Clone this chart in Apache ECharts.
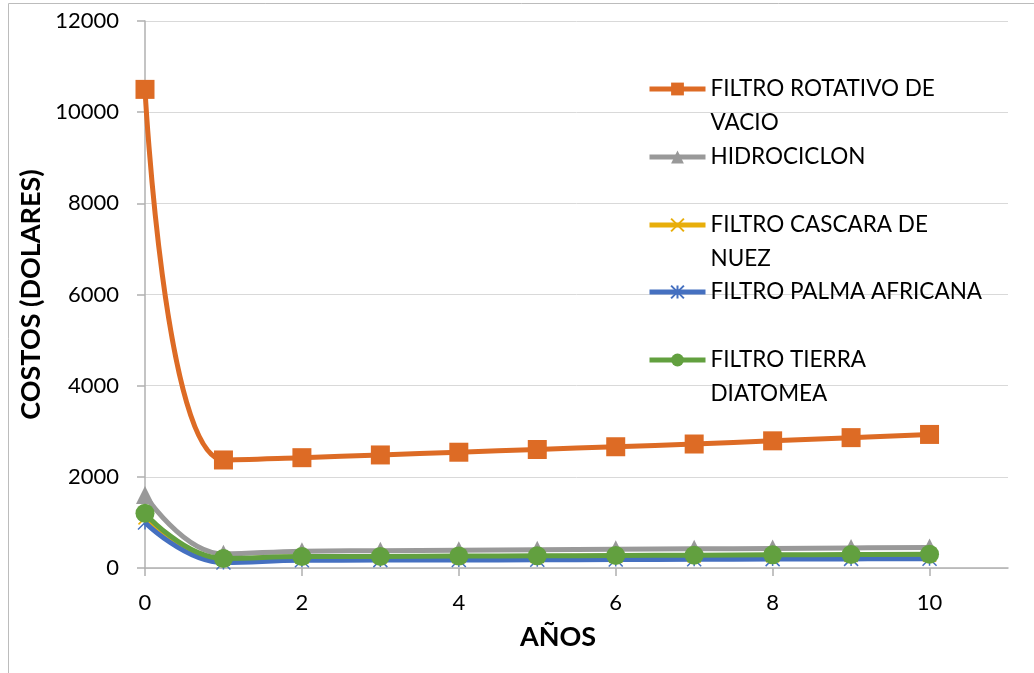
<!DOCTYPE html>
<html>

<head>
  <meta charset="UTF-8">
  <title>Costos por año</title>
  <script src="https://cdn.jsdelivr.net/npm/echarts@6/dist/echarts.min.js"></script>
  <style>
    body { margin: 0; background: #fff; }
  </style>
</head>

<body>
  <div id="main" style="width: 1034px;height:673px;"></div>
  <script type="text/javascript">
    // datos
    var anios = [0, 1, 2, 3, 4, 5, 6, 7, 8, 9, 10];
    var nombres = ['FILTRO ROTATIVO DE VACIO', 'HIDROCICLON', 'FILTRO CASCARA DE NUEZ',
      'FILTRO PALMA AFRICANA', 'FILTRO TIERRA DIATOMEA'];
    var rotativo = [10500, 2370, 2420, 2480, 2540, 2600, 2660, 2720, 2790, 2860, 2930];
    var hidrociclon = [1600, 310, 370, 380, 390, 400, 410, 420, 430, 440, 450];
    var cascara = [1100, 200, 240, 245, 250, 255, 260, 265, 270, 275, 280];
    var palma = [1000, 120, 170, 173, 176, 180, 185, 190, 195, 200, 205];
    var tierra = [1200, 210, 250, 255, 262, 268, 275, 282, 288, 295, 300];
    var yTicks = [0, 2000, 4000, 6000, 8000, 10000, 12000];
    var xTicks = [0, 2, 4, 6, 8, 10];

    var valores = [rotativo, hidrociclon, cascara, palma, tierra];
    var colores = ['#DD6B25', '#999999', '#E8AE0A', '#4570C0', '#62A03F'];
    var simbolos = ['rect', 'triangle',
      'path://M0,0L10,10M10,0L0,10',
      'path://M5,0L5,10M0,0L10,10M10,0L0,10',
      'circle'];
    var tamanos = [19, 18, 13, 14, 19];
    // salto de linea como en la leyenda original
    var etiquetas = [' \nFILTRO ROTATIVO DE\nVACIO', ' \nHIDROCICLON\n ', ' \nFILTRO CASCARA DE\nNUEZ',
      ' \nFILTRO PALMA AFRICANA\n ', ' \nFILTRO TIERRA\nDIATOMEA'];
    var leyendaY = [89, 157, 225, 292, 360];

    var myChart = echarts.init(document.getElementById('main'));

    var fuente = 'Lato';

    var series = nombres.map(function (n, i) {
      var lineal = i === 2 || i === 3;
      return {
        name: n,
        type: 'line',
        smooth: 0.45,
        symbol: simbolos[i],
        symbolSize: tamanos[i],
        z: 2 + i,
        lineStyle: { color: colores[i], width: 5 },
        itemStyle: lineal ? { color: colores[i], borderColor: colores[i], borderWidth: 1.5 }
          : { color: colores[i], borderColor: colores[i], borderWidth: 0 },
        data: anios.map(function (a, k) { return [a, valores[i][k]]; })
      };
    });

    var leyendas = nombres.map(function (n, i) {
      return {
        data: [n],
        orient: 'vertical',
        left: 642,
        top: leyendaY[i] - 51 - 5,
        itemWidth: 56,
        itemHeight: 16,
        itemGap: 0,
        lineStyle: { width: 5 },
        formatter: function () { return etiquetas[i]; },
        textStyle: { fontFamily: fuente, fontSize: 22.5, color: '#000', lineHeight: 34 },
        selectedMode: false
      };
    });

    var option = {
      animation: false,
      textStyle: { fontFamily: fuente },
      grid: { left: 145, right: 26, top: 21, bottom: 105 },
      legend: leyendas,
      graphic: [{
        type: 'rect',
        shape: { x: 8.5, y: 3.5, width: 1100, height: 800 },
        style: { fill: null, stroke: '#bcbcbc', lineWidth: 1 },
        silent: true
      }],
      xAxis: {
        type: 'value',
        min: 0,
        max: 11,
        interval: 2,
        name: 'AÑOS',
        nameLocation: 'middle',
        nameGap: 56,
        nameTextStyle: { fontFamily: fuente, fontSize: 27, fontWeight: 'bold', color: '#000', padding: [0, 37, 0, 0] },
        axisLine: { lineStyle: { color: '#b0b0b0', width: 1.5 } },
        axisTick: { length: 8, lineStyle: { color: '#b0b0b0', width: 1.5 } },
        splitLine: { show: false },
        axisLabel: {
          fontFamily: fuente, fontSize: 22, color: '#000', margin: 24, showMaxLabel: false,
          formatter: function (v) { return xTicks.indexOf(v) >= 0 ? String(v) : ''; }
        }
      },
      yAxis: {
        type: 'value',
        min: yTicks[0],
        max: yTicks[yTicks.length - 1],
        interval: 2000,
        name: 'COSTOS (DOLARES)',
        nameLocation: 'middle',
        nameGap: 74,
        nameTextStyle: { fontFamily: fuente, fontSize: 27, fontWeight: 'bold', color: '#000' },
        axisLine: { show: true, lineStyle: { color: '#b0b0b0', width: 1.5 } },
        axisTick: { show: true, length: 8, lineStyle: { color: '#b0b0b0', width: 1.5 } },
        splitLine: { show: true, lineStyle: { color: '#d9d9d9', width: 1 } },
        axisLabel: {
          fontFamily: fuente, fontSize: 22, color: '#000', margin: 26,
          formatter: function (v) { return String(v); }
        }
      },
      series: series
    };

    myChart.setOption(option);
  </script>
</body>

</html>
